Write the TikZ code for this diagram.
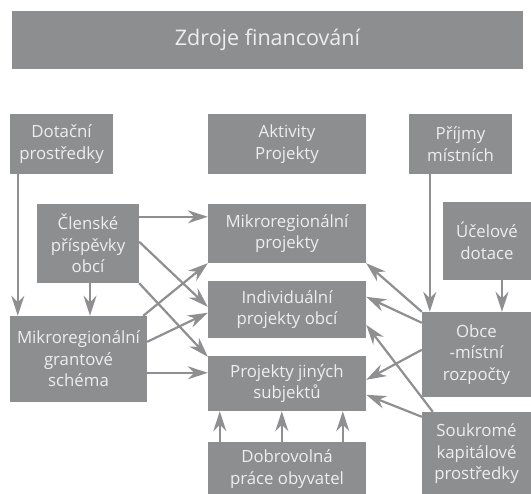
\documentclass[tikz,border=0pt]{standalone}
\usepackage{fontspec}
\setmainfont{Open Sans}
\usetikzlibrary{arrows.meta}
\definecolor{boxgray}{RGB}{141,142,144}
\definecolor{arrgray}{RGB}{143,143,145}
\definecolor{txtlight}{RGB}{238,238,238}
\tikzset{
  box/.style={fill=boxgray, draw=none, inner sep=0pt, text=txtlight, align=center,
    font=\fontsize{16.8}{21.5}\selectfont},
  arr/.style={draw=arrgray, line width=2.2pt,
    -{Stealth[length=20pt,width=13pt,inset=6.5pt]}},
}
\begin{document}
\begin{tikzpicture}[x=1pt,y=-1pt]
\useasboundingbox (0,0) rectangle (531,494);
% title
\node[box, minimum width=511pt, minimum height=58pt, font=\fontsize{21.5}{26}\selectfont] (title) at (267.5,40) {Zdroje financování};
% top row
\node[box, minimum width=103pt, minimum height=60pt] (dot) at (61.5,144) {Dotační\\prostředky};
\node[box, minimum width=158pt, minimum height=60pt] (akt) at (287,144) {Aktivity\\Projekty};
\node[box, minimum width=103pt, minimum height=60pt] (prij) at (460.5,144) {Příjmy\\místních};
% left
\node[box, minimum width=102pt, minimum height=79pt] (clen) at (88,243.5) {Členské\\příspěvky\\obcí};
\node[box, minimum width=137pt, minimum height=86pt] (gran) at (78.5,359) {Mikroregionální\\grantové\\schéma};
% middle
\node[box, minimum width=158pt, minimum height=59pt] (mikp) at (287,233.5) {Mikroregionální\\projekty};
\node[box, minimum width=158pt, minimum height=57pt] (ind) at (287,309.5) {Individuální\\projekty obcí};
\node[box, minimum width=158pt, minimum height=55pt] (jin) at (287,383.5) {Projekty jiných\\subjektů};
\node[box, minimum width=158pt, minimum height=54pt] (dob) at (287,469) {Dobrovolná\\práce obyvatel};
% right
\node[box, minimum width=88pt, minimum height=78pt] (ucel) at (487,241) {Účelové\\dotace};
\node[box, minimum width=109pt, minimum height=85pt] (obce) at (476.5,354.5) {Obce\\-místní\\rozpočty};
\node[box, minimum width=109pt, minimum height=84pt] (souk) at (476.5,454) {Soukromé\\kapitálové\\prostředky};
% left arrows
\draw[arr] ([xshift=8pt]dot.south west) -- ([xshift=8pt]gran.north west);
\draw[arr] ([xshift=2pt]clen.south) -- ([xshift=2pt]clen.south |- gran.north);
\draw[arr] ([yshift=-13pt]clen.north east) -- ([yshift=-13pt]mikp.north west);
\draw[arr] ([yshift=-38pt]clen.north east) -- ([yshift=-26pt]ind.north west);
\draw[arr] (clen.south east) -- ([yshift=-1pt]jin.north west);
\draw[arr] ([xshift=-4pt]gran.north east) -- (mikp.south west);
\draw[arr] ([yshift=-26pt]gran.north east) -- ([yshift=-32pt]ind.north west);
\draw[arr] ([yshift=-57pt]gran.north east) -- ([yshift=-17pt]jin.north west);
% right arrows
\draw[arr] ([xshift=21pt]prij.south west) -- ([xshift=8pt]obce.north west);
\draw[arr] ([xshift=15pt]ucel.south) -- ([xshift=15pt]ucel.south |- obce.north);
\draw[arr] (obce.north west) -- (mikp.south east);
\draw[arr] ([yshift=-11pt]obce.north west) -- ([yshift=-16pt]ind.north east);
\draw[arr] ([yshift=-38pt]obce.north west) -- ([yshift=-24pt]jin.north east);
\draw[arr] ([xshift=11pt]souk.north west) -- ([yshift=-44pt]ind.north east);
\draw[arr] ([yshift=-5pt]souk.north west) -- ([yshift=-39pt]jin.north east);
% bottom arrows
\draw[arr] ([xshift=12pt]dob.north west) -- ([xshift=12pt]jin.south west);
\draw[arr] ([xshift=74pt]dob.north west) -- ([xshift=74pt]jin.south west);
\draw[arr] ([xshift=135pt]dob.north west) -- ([xshift=135pt]jin.south west);
\end{tikzpicture}
\end{document}
